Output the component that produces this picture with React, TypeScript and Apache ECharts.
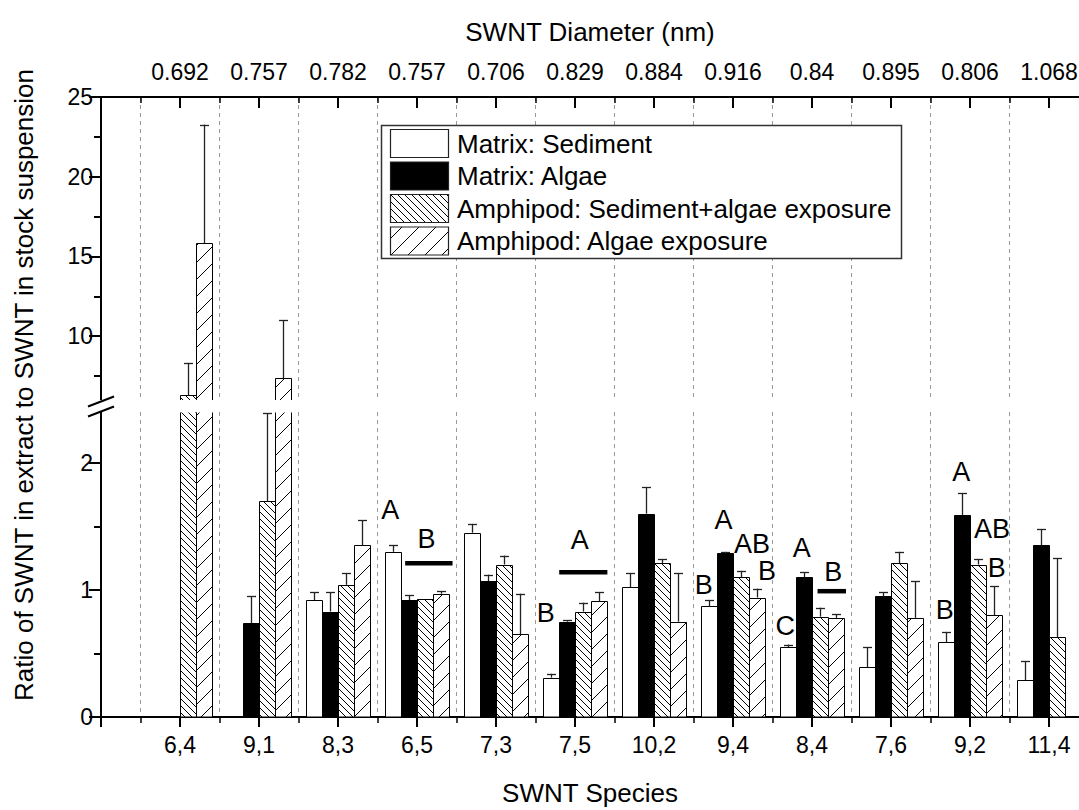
import React, { useEffect, useRef } from 'react';
import * as echarts from 'echarts';

// ---------------- data ----------------
const species = ['6,4', '9,1', '8,3', '6,5', '7,3', '7,5', '10,2', '9,4', '8,4', '7,6', '9,2', '11,4'];
const diameters = ['0.692', '0.757', '0.782', '0.757', '0.706', '0.829', '0.884', '0.916', '0.84', '0.895', '0.806', '1.068'];
const seriesNames = ['Matrix: Sediment', 'Matrix: Algae', 'Amphipod: Sediment+algae exposure', 'Amphipod: Algae exposure'];

const sediment = [null, null, 0.92, 1.30, 1.45, 0.31, 1.02, 0.87, 0.55, 0.39, 0.59, 0.29];
const sedimentErr = [null, null, 0.06, 0.05, 0.07, 0.03, 0.11, 0.05, 0.02, 0.16, 0.08, 0.15];
const algae = [null, 0.74, 0.83, 0.92, 1.07, 0.75, 1.60, 1.29, 1.10, 0.95, 1.59, 1.35];
const algaeErr = [null, 0.21, 0.15, 0.04, 0.05, 0.01, 0.21, 0.01, 0.04, 0.03, 0.17, 0.13];
const amphSedAlgae = [6.29, 1.70, 1.04, 0.93, 1.20, 0.83, 1.21, 1.10, 0.79, 1.21, 1.20, 0.63];
const amphSedAlgaeErr = [2.04, 0.69, 0.09, 0, 0.07, 0.07, 0.03, 0.05, 0.07, 0.09, 0.04, 0.62];
const amphAlgae = [15.83, 7.37, 1.35, 0.97, 0.65, 0.91, 0.75, 0.94, 0.78, 0.78, 0.80, null];
const amphAlgaeErr = [7.44, 3.65, 0.20, 0.02, 0.32, 0.07, 0.38, 0.07, 0.03, 0.29, 0.23, null];

const upperTicks = [10, 15, 20, 25];
const upperMinorTicks = [7.5, 12.5, 17.5, 22.5];
const lowerTicks = [0, 1, 2];
const lowerMinorTicks = [0.5, 1.5];

// significance letters: category, offset from category centre, y value, text
const letterCats = [3, 3, 5, 5, 7, 7, 7, 7, 8, 8, 8, 10, 10, 10, 10];
const letterDx = [-0.34, 0.12, -0.37, 0.06, -0.37, -0.12, 0.24, 0.43, -0.34, -0.13, 0.27, -0.32, -0.11, 0.28, 0.34];
const letterY = [1.63, 1.40, 0.82, 1.39, 1.04, 1.55, 1.36, 1.15, 0.72, 1.33, 1.14, 0.84, 1.93, 1.48, 1.17];
const letterText = ['A', 'B', 'B', 'A', 'B', 'A', 'AB', 'B', 'C', 'A', 'B', 'B', 'A', 'AB', 'B'];

// grouping bars: category, from offset, to offset, y value
const groupCats = [3, 5, 8];
const groupFrom = [-0.15, -0.2, 0.07];
const groupTo = [0.45, 0.41, 0.43];
const groupY = [1.21, 1.14, 0.99];

// ---------------- helpers ----------------
const FONT = '"Liberation Sans", Arial, Helvetica, sans-serif';
const BAR_W = 0.2025;

function hatch(x: number, y: number, w: number, h: number, dir: string, period: number) {
  const segs: number[][] = [];
  if (dir === 'back') {
    const cMin = Math.ceil((y - (x + w)) / period) * period;
    for (let c = cMin; c <= y + h - x; c += period) {
      const xa = Math.max(x, y - c);
      const xb = Math.min(x + w, y + h - c);
      if (xb - xa > 0.3) segs.push([xa, xa + c, xb, xb + c]);
    }
  } else {
    const cMin = Math.ceil((x + y) / period) * period;
    for (let c = cMin; c <= x + w + y + h; c += period) {
      const xa = Math.max(x, c - y - h);
      const xb = Math.min(x + w, c - y);
      if (xb - xa > 0.3) segs.push([xa, c - xa, xb, c - xb]);
    }
  }
  return segs.map((s) => ({
    type: 'line',
    shape: { x1: s[0], y1: s[1], x2: s[2], y2: s[3] },
    style: { stroke: '#000', lineWidth: 1 },
  }));
}

function fillFor(k: number) {
  return k === 1 ? '#000' : '#fff';
}

function hatchFor(k: number, x: number, y: number, w: number, h: number) {
  if (k === 2) return hatch(x, y, w, h, 'back', 7);
  if (k === 3) return hatch(x, y, w, h, 'fwd', 17);
  return [];
}

const values = [sediment, algae, amphSedAlgae, amphAlgae];
const errors = [sedimentErr, algaeErr, amphSedAlgaeErr, amphAlgaeErr];

function barSeries(k: number, gridIdx: number, yAxisIndex: number, yMin: number, yMax: number) {
  const data: number[][] = [];
  values[k].forEach((v, i) => {
    if (v != null) data.push([i, v as number, (errors[k][i] as number) || 0]);
  });
  return {
    type: 'custom',
    name: seriesNames[k],
    xAxisIndex: gridIdx,
    yAxisIndex,
    data,
    encode: { x: 0, y: 1 },
    z: 5,
    renderItem: (params: any, api: any) => {
      const i = api.value(0);
      const v = api.value(1);
      const err = api.value(2);
      const children: any[] = [];
      const x0 = i - 2 * BAR_W + k * BAR_W;
      const x1 = x0 + BAR_W;
      const xc = (x0 + x1) / 2;
      const clipTop = v > yMax;
      const top = Math.min(v, yMax);
      const bottom = Math.max(0, yMin);
      const clipBottom = yMin > 0;
      if (top > bottom) {
        const p0 = api.coord([x0, top]);
        const p1 = api.coord([x1, bottom]);
        const L = Math.round(p0[0]) + 0.5;
        const R = Math.round(p1[0]) + 0.5;
        const T = Math.round(p0[1]) + 0.5;
        const B = p1[1];
        children.push({
          type: 'rect',
          shape: { x: L, y: T, width: R - L, height: B - T },
          style: { fill: fillFor(k), stroke: null },
        });
        hatchFor(k, L, T, R - L, B - T).forEach((c) => children.push(c));
        const ls = { stroke: '#000', lineWidth: 1 };
        children.push({ type: 'line', shape: { x1: L, y1: T, x2: L, y2: B }, style: ls });
        children.push({ type: 'line', shape: { x1: R, y1: T, x2: R, y2: B }, style: ls });
        if (!clipTop) children.push({ type: 'line', shape: { x1: L, y1: T, x2: R, y2: T }, style: ls });
        if (!clipBottom) children.push({ type: 'line', shape: { x1: L, y1: B, x2: R, y2: B }, style: ls });
      }
      if (err > 0 && v < yMax) {
        const eTop = v + err;
        const from = Math.max(v, yMin);
        const to = Math.min(eTop, yMax);
        if (to > from) {
          const a = api.coord([xc, from]);
          const b = api.coord([xc, to]);
          const cx = Math.round(a[0]) + 0.5;
          const es = { stroke: '#222', lineWidth: 1.3 };
          children.push({ type: 'line', shape: { x1: cx, y1: a[1], x2: cx, y2: b[1] }, style: es });
          if (eTop <= yMax) {
            const cy = Math.round(b[1]) + 0.5;
            children.push({ type: 'line', shape: { x1: cx - 4.5, y1: cy, x2: cx + 4.5, y2: cy }, style: es });
          }
        }
      }
      return { type: 'group', children };
    },
  };
}

function xAxisCfg(gridIndex: number, position: string, labels: string[], inside: boolean) {
  return {
    type: 'value',
    gridIndex,
    position,
    min: -1,
    max: 12,
    interval: 1,
    axisLine: { show: true, onZero: false, lineStyle: { color: '#000', width: 2 } },
    axisTick: { show: true, inside, length: inside ? 11 : 10, lineStyle: { color: '#000', width: 2 } },
    minorTick: { show: true, splitNumber: 2, length: 6, lineStyle: { color: '#000', width: 1.5 } },
    minorSplitLine: { show: true, lineStyle: { color: '#9a9a9a', width: 1, type: [4, 4] } },
    splitLine: { show: false },
    axisLabel: {
      show: true,
      margin: inside ? 14 : 16,
      color: '#000',
      fontSize: 23,
      fontFamily: FONT,
      formatter: (val: number) => (val >= 0 && val < labels.length ? labels[val] : ''),
    },
  };
}

function yAxisCfg(gridIndex: number, min: number, max: number, ticks: number[], minor: boolean) {
  return {
    type: 'value',
    gridIndex,
    position: 'left',
    min,
    max,
    axisLine: { show: !minor, onZero: false, lineStyle: { color: '#000', width: 2 } },
    axisTick: {
      show: true,
      inside: false,
      length: minor ? 7 : 12,
      customValues: ticks,
      lineStyle: { color: '#000', width: 2 },
    },
    splitLine: { show: false },
    axisLabel: {
      show: !minor,
      customValues: ticks,
      margin: 8,
      color: '#000',
      fontSize: 23,
      fontFamily: FONT,
    },
  };
}

function legendGraphic() {
  const els: any[] = [];
  const bx = 381.5, by = 125.5, bw = 520, bh = 133;
  els.push({
    type: 'rect', z: 100,
    shape: { x: bx, y: by, width: bw, height: bh },
    style: { fill: '#fff', stroke: '#333', lineWidth: 1.5 },
  });
  const rows = [129.5, 162, 194.5, 227];
  rows.forEach((ry, k) => {
    const sx = 390.5, sw = 58, sh = 28;
    els.push({ type: 'rect', z: 101, shape: { x: sx, y: ry, width: sw, height: sh }, style: { fill: fillFor(k), stroke: null } });
    hatchFor(k, sx, ry, sw, sh).forEach((c: any) => els.push({ ...c, z: 102 }));
    els.push({ type: 'rect', z: 103, shape: { x: sx, y: ry, width: sw, height: sh }, style: { fill: 'none', stroke: '#222', lineWidth: 1.2 } });
    els.push({
      type: 'text', z: 103, x: 457, y: ry + sh / 2,
      style: { text: seriesNames[k], fontSize: 26, fontFamily: FONT, fill: '#000', verticalAlign: 'middle', align: 'left' },
    });
  });
  return els;
}

export default function App() {
  const ref = useRef<HTMLDivElement>(null);
  useEffect(() => {
    if (!ref.current) return;
    const chart = echarts.init(ref.current, null, { renderer: 'svg' });
    const grids = [
      { left: 101, top: 97, width: 1027, height: 303 },
      { left: 101, top: 412, width: 1027, height: 305 },
    ];
    const series: any[] = [];
    for (let k = 0; k < 4; k++) {
      series.push(barSeries(k, 0, 0, 6, 25));
      series.push(barSeries(k, 1, 2, 0, 2.4));
    }
    series.push({
      type: 'custom',
      xAxisIndex: 1,
      yAxisIndex: 2,
      z: 10,
      data: letterCats.map((c, i) => [c + letterDx[i], letterY[i]]),
      encode: { x: 0, y: 1 },
      renderItem: (params: any, api: any) => {
        const p = api.coord([api.value(0), api.value(1)]);
        return {
          type: 'text',
          x: p[0],
          y: p[1],
          style: {
            text: letterText[params.dataIndex],
            fontSize: 27,
            fontFamily: FONT,
            fill: '#000',
            align: 'center',
            verticalAlign: 'middle',
          },
        };
      },
    });
    series.push({
      type: 'custom',
      xAxisIndex: 1,
      yAxisIndex: 2,
      z: 10,
      data: groupCats.map((c, i) => [c + groupFrom[i], c + groupTo[i], groupY[i]]),
      encode: { x: [0, 1], y: 2 },
      renderItem: (params: any, api: any) => {
        const a = api.coord([api.value(0), api.value(2)]);
        const b = api.coord([api.value(1), api.value(2)]);
        return {
          type: 'line',
          shape: { x1: a[0], y1: a[1], x2: b[0], y2: b[1] },
          style: { stroke: '#000', lineWidth: 4.5 },
        };
      },
    });

    const graphic: any[] = [
      ...legendGraphic(),
      // axis break marks
      { type: 'rect', z: 50, shape: { x: 95, y: 400, width: 12, height: 12 }, style: { fill: '#fff' } },
      { type: 'line', z: 51, shape: { x1: 88, y1: 406.5, x2: 114, y2: 396.5 }, style: { stroke: '#000', lineWidth: 2 } },
      { type: 'line', z: 51, shape: { x1: 88, y1: 416.5, x2: 114, y2: 406.5 }, style: { stroke: '#000', lineWidth: 2 } },
      {
        type: 'text', z: 60, x: 590, y: 32,
        style: { text: 'SWNT Diameter (nm)', fontSize: 26, fontFamily: FONT, fill: '#000', align: 'center', verticalAlign: 'middle' },
      },
      {
        type: 'text', z: 60, x: 590, y: 793,
        style: { text: 'SWNT Species', fontSize: 26, fontFamily: FONT, fill: '#000', align: 'center', verticalAlign: 'middle' },
      },
      {
        type: 'text', z: 60, x: 24, y: 385, rotation: Math.PI / 2,
        style: {
          text: 'Ratio of SWNT in extract to SWNT in stock suspension',
          fontSize: 26, fontFamily: FONT, fill: '#000', align: 'center', verticalAlign: 'middle',
        },
      },
    ];

    chart.setOption({
      animation: false,
      backgroundColor: '#fff',
      grid: grids,
      xAxis: [xAxisCfg(0, 'top', diameters, true), xAxisCfg(1, 'bottom', species, false)],
      yAxis: [
        yAxisCfg(0, 6, 25, upperTicks, false),
        yAxisCfg(0, 6, 25, upperMinorTicks, true),
        yAxisCfg(1, 0, 2.4, lowerTicks, false),
        yAxisCfg(1, 0, 2.4, lowerMinorTicks, true),
      ],
      series,
      graphic,
    });
    return () => chart.dispose();
  }, []);
  return (
    <div style={{ position: 'absolute', left: 0, top: 0, width: 1079, height: 810, overflow: 'hidden', background: '#fff' }}>
      <div ref={ref} style={{ width: 1150, height: 810 }} />
    </div>
  );
}
